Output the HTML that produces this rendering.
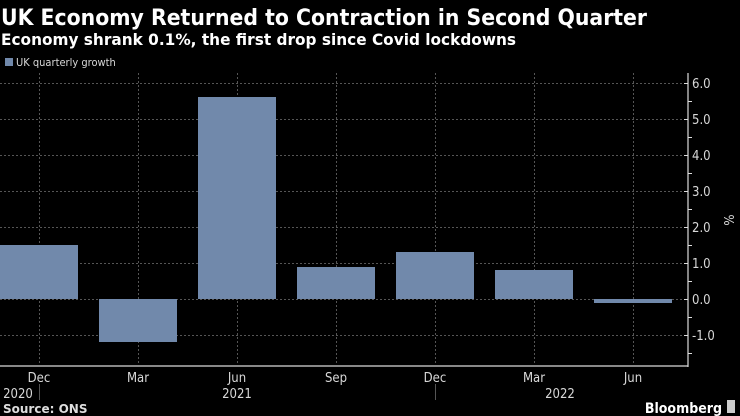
<!DOCTYPE html>
<html><head><style>
body{margin:0;background:#000;width:740px;height:416px;overflow:hidden}
svg{display:block}
text{font-family:"DejaVu Sans","Liberation Sans",sans-serif;fill:#fff}
.t{font-family:"DejaVu Sans Condensed","DejaVu Sans",sans-serif;fill:#d8d8d8;font-size:13px}
</style></head><body>
<svg width="740" height="416" xmlns="http://www.w3.org/2000/svg">
<text x="1" y="25" font-size="22" font-weight="bold" textLength="646" lengthAdjust="spacingAndGlyphs">UK Economy Returned to Contraction in Second Quarter</text>
<text x="1" y="45" font-size="16" font-weight="bold" textLength="515" lengthAdjust="spacingAndGlyphs">Economy shrank 0.1%, the first drop since Covid lockdowns</text>
<rect x="5" y="58" width="8" height="8" fill="#7189ab"/>
<text x="16" y="66" class="t" style="font-size:11px">UK quarterly growth</text>
<g stroke="#555" stroke-dasharray="2,2" stroke-width="1">
<line x1="0" y1="83.5" x2="688" y2="83.5"/><line x1="0" y1="119.5" x2="688" y2="119.5"/>
<line x1="0" y1="155.5" x2="688" y2="155.5"/><line x1="0" y1="191.5" x2="688" y2="191.5"/>
<line x1="0" y1="227.5" x2="688" y2="227.5"/><line x1="0" y1="263.5" x2="688" y2="263.5"/>
<line x1="0" y1="299.5" x2="688" y2="299.5"/><line x1="0" y1="335.5" x2="688" y2="335.5"/>
<line x1="39.5" y1="73" x2="39.5" y2="366"/><line x1="138.5" y1="73" x2="138.5" y2="366"/>
<line x1="237.5" y1="73" x2="237.5" y2="366"/><line x1="336.5" y1="73" x2="336.5" y2="366"/>
<line x1="435.5" y1="73" x2="435.5" y2="366"/><line x1="534.5" y1="73" x2="534.5" y2="366"/>
<line x1="633.5" y1="73" x2="633.5" y2="366"/>
</g>
<g fill="#7189ab">
<rect x="0" y="245" width="78" height="54"/>
<rect x="99" y="299" width="78" height="43"/>
<rect x="198" y="97" width="78" height="202"/>
<rect x="297" y="267" width="78" height="32"/>
<rect x="396" y="252" width="78" height="47"/>
<rect x="495" y="270" width="78" height="29"/>
<rect x="594" y="299" width="78" height="4"/>
</g>
<line x1="0" y1="366" x2="688" y2="366" stroke="#888" stroke-width="2"/>
<line x1="688" y1="73" x2="688" y2="367" stroke="#ddd" stroke-width="1.2"/>
<g stroke="#ddd">
<line x1="684" y1="83.5" x2="688" y2="83.5"/><line x1="684" y1="119.5" x2="688" y2="119.5"/>
<line x1="684" y1="155.5" x2="688" y2="155.5"/><line x1="684" y1="191.5" x2="688" y2="191.5"/>
<line x1="684" y1="227.5" x2="688" y2="227.5"/><line x1="684" y1="263.5" x2="688" y2="263.5"/>
<line x1="684" y1="299.5" x2="688" y2="299.5"/><line x1="684" y1="335.5" x2="688" y2="335.5"/>
<line x1="688" y1="101.5" x2="692" y2="101.5"/><line x1="688" y1="137.5" x2="692" y2="137.5"/>
<line x1="688" y1="173.5" x2="692" y2="173.5"/><line x1="688" y1="209.5" x2="692" y2="209.5"/>
<line x1="688" y1="245.5" x2="692" y2="245.5"/><line x1="688" y1="281.5" x2="692" y2="281.5"/>
<line x1="688" y1="317.5" x2="692" y2="317.5"/><line x1="688" y1="353.5" x2="692" y2="353.5"/>
</g>
<g>
<text class="t" x="692" y="88">6.0</text><text class="t" x="692" y="124">5.0</text>
<text class="t" x="692" y="160">4.0</text><text class="t" x="692" y="196">3.0</text>
<text class="t" x="692" y="232">2.0</text><text class="t" x="692" y="268">1.0</text>
<text class="t" x="692" y="304">0.0</text><text class="t" x="692" y="340">-1.0</text>
</g>
<text class="t" transform="translate(724,220) rotate(90)" text-anchor="middle">%</text>
<g text-anchor="middle">
<text class="t" x="39" y="382">Dec</text><text class="t" x="138" y="382">Mar</text>
<text class="t" x="237" y="382">Jun</text><text class="t" x="336" y="382">Sep</text>
<text class="t" x="435" y="382">Dec</text><text class="t" x="534" y="382">Mar</text>
<text class="t" x="633" y="382">Jun</text>
<text class="t" x="18" y="398">2020</text><text class="t" x="237" y="398">2021</text>
<text class="t" x="560" y="398">2022</text>
</g>
<line x1="39.5" y1="384" x2="39.5" y2="400" stroke="#555"/>
<line x1="435.5" y1="384" x2="435.5" y2="400" stroke="#555"/>
<text x="3" y="413" font-size="12" font-weight="bold" style="fill:#ddd">Source: ONS</text>
<text x="722" y="413" font-size="14" text-anchor="end" style="font-family:'DejaVu Sans Condensed','DejaVu Sans',sans-serif" font-weight="bold">Bloomberg</text>
<rect x="727" y="400" width="8" height="13" fill="#ccc"/>
</svg>
</body></html>
